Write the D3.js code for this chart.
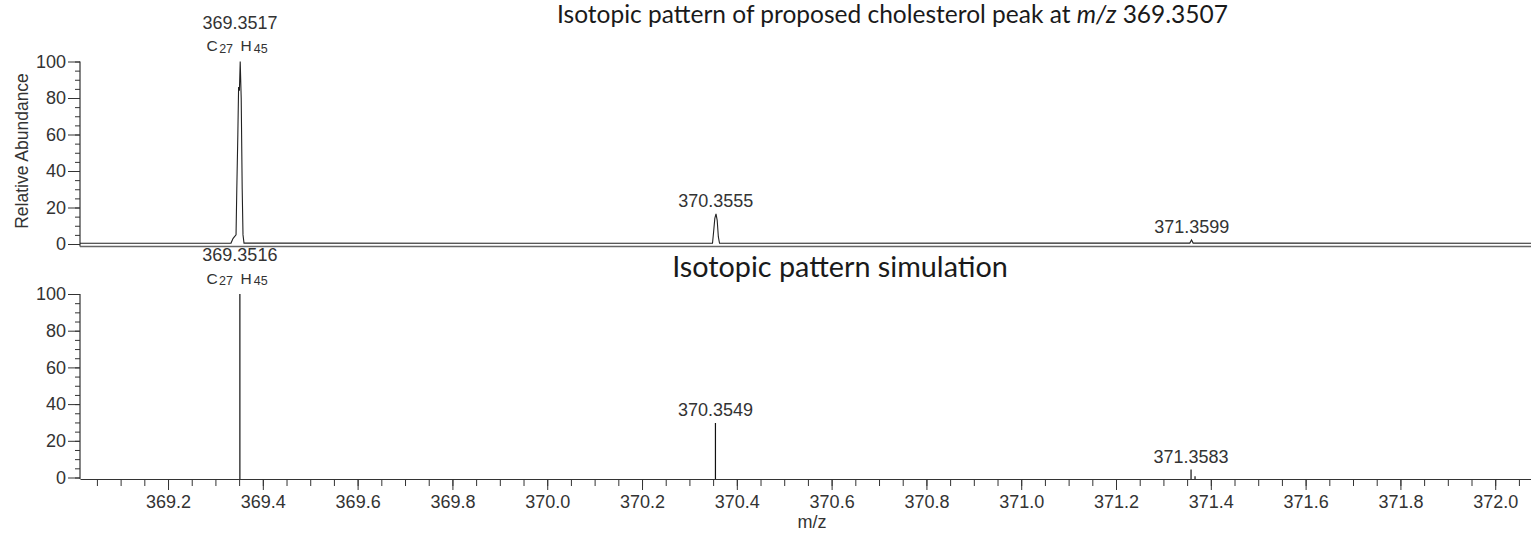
<!DOCTYPE html>
<html><head><meta charset="utf-8">
<script src="https://cdn.jsdelivr.net/npm/d3@7"></script>
<style>body{margin:0;background:#fff}svg{display:block}</style>
</head><body>
<svg id="chart" width="1531" height="534"></svg>
<script>
// ---- data ----
const xTickLabels = ["369.2","369.4","369.6","369.8","370.0","370.2","370.4","370.6","370.8","371.0","371.2","371.4","371.6","371.8","372.0"];
const yTickLabels = ["0","20","40","60","80","100"];
const xDomain = [369.0143, 372.0755];

// measured profile spectrum (top)
const profileMz = [369.0143, 369.3329, 369.3371, 369.3403, 369.3435, 369.3451, 369.3473, 369.3489, 369.3506, 369.3523, 369.3544, 369.3565, 369.3582, 369.3603,
                   370.3487, 370.3508, 370.3536, 370.3561, 370.3586, 370.3610, 370.3635,
                   371.3557, 371.3593, 371.3627, 372.0755];
const profileAbundance = [0.4, 0.5, 3, 4, 5, 30, 60, 86, 84, 100, 80, 30, 5, 0.5,
                          0.4, 6, 14, 16.5, 13, 4, 0.4,
                          0.5, 2.2, 0.5, 0.4];

// simulated stick spectrum (bottom)
const simMz = [369.3516, 370.3549, 371.3583, 371.3667];
const simAbundance = [100, 29.7, 4.3, 0.7];

// peak annotations
const topPeakLabels = ["369.3517", "370.3555", "371.3599"];
const topPeakMz = [369.3517, 370.3555, 371.3599];
const topPeakHeight = [100, 16.5, 2.2];
const simPeakLabels = ["369.3516", "370.3549", "371.3583"];
const simPeakMz = [369.3516, 370.3549, 371.3583];
const simPeakHeight = [100, 29.7, 4.3];
const formulaParts = ["C", "27", "H", "45"];

const titleTop = ["Isotopic pattern of proposed cholesterol peak at ", "m/z", " 369.3507"];
const titleBottom = "Isotopic pattern simulation";
const yAxisTitle = "Relative Abundance";
const xAxisTitle = "m/z";

// ---- layout ----
const svg = d3.select("#chart");
const FONT = "'Liberation Sans', Arial, sans-serif";
const TXT = "#333";
const x = d3.scaleLinear().domain(xDomain).range([80, 1531]);
const yTop = d3.scaleLinear().domain([0, 100]).range([244, 61.5]);
const yBot = d3.scaleLinear().domain([0, 100]).range([477.5, 294]);

function yAxis(y, axisLineY) {
  const g = svg.append("g").attr("transform", "translate(80,0)");
  g.append("g").call(d3.axisLeft(y).tickValues(d3.range(0, 101, 5)).tickSize(5).tickFormat(""))
    .call(s => s.select(".domain").remove())
    .call(s => s.selectAll("line").attr("stroke", "#333"));
  g.append("g").call(d3.axisLeft(y).tickValues(yTickLabels.map(Number)).tickSize(12).tickPadding(2)
      .tickFormat((d, i) => yTickLabels[i]))
    .call(s => s.select(".domain").remove())
    .call(s => s.selectAll("line").attr("stroke", "#333"))
    .call(s => s.selectAll("text").attr("font-family", FONT).attr("font-size", 18).attr("fill", TXT));
  g.append("line").attr("x1", 0).attr("x2", 0).attr("y1", y(100)).attr("y2", axisLineY)
    .attr("stroke", "#333").attr("stroke-width", 1.2);
}

// top panel
yAxis(yTop, 246.5);
svg.append("line").attr("x1", 80).attr("x2", 1531).attr("y1", 246.5).attr("y2", 246.5)
  .attr("stroke", "#666").attr("stroke-width", 1.3);
const profile = profileMz.map((m, i) => [m, profileAbundance[i]]);
svg.append("path").datum(profile)
  .attr("d", d3.line().x(d => x(d[0])).y(d => yTop(d[1])))
  .attr("fill", "none").attr("stroke", "#222").attr("stroke-width", 1.1);

// bottom panel
yAxis(yBot, 479);
const xg = svg.append("g").attr("transform", "translate(0,479)");
xg.append("g").call(d3.axisBottom(x).tickValues(d3.range(369.05, 372.08, 0.05)).tickSize(7).tickFormat("").tickSizeOuter(0))
  .call(s => s.select(".domain").attr("stroke", "#333").attr("stroke-width", 1.2))
  .call(s => s.selectAll("line").attr("stroke", "#333"));
xg.append("g").call(d3.axisBottom(x).tickValues(xTickLabels.map(Number)).tickSize(11).tickPadding(5)
    .tickFormat((d, i) => xTickLabels[i]).tickSizeOuter(0))
  .call(s => s.select(".domain").remove())
  .call(s => s.selectAll("line").attr("stroke", "#333"))
  .call(s => s.selectAll("text").attr("font-family", FONT).attr("font-size", 18).attr("fill", TXT));

svg.append("g").selectAll("line").data(simMz).join("line")
  .attr("x1", d => x(d)).attr("x2", d => x(d))
  .attr("y1", yBot(0) + 1.5).attr("y2", (d, i) => yBot(simAbundance[i]))
  .attr("stroke", "#111").attr("stroke-width", 1.2);

// peak labels
function peakLabels(labels, mzs, heights, y, formulaIdx) {
  labels.forEach((lab, i) => {
    const px = x(mzs[i]);
    const top = y(heights[i]);
    const isBase = i === formulaIdx;
    svg.append("text").attr("x", px).attr("y", isBase ? top - 33 : top - 7)
      .attr("text-anchor", "middle").attr("font-family", FONT).attr("font-size", 18)
      .attr("fill", TXT).text(lab);
    if (isBase) {
      const t = svg.append("text").attr("x", px - 33.5).attr("y", top - 10.5)
        .attr("font-family", FONT).attr("fill", TXT);
      t.append("tspan").attr("font-size", 15.5).text(formulaParts[0]);
      t.append("tspan").attr("font-size", 12.5).attr("dx", 1.5).attr("dy", 1.5).text(formulaParts[1]);
      t.append("tspan").attr("font-size", 15.5).attr("dx", 7.5).attr("dy", -1.5).text(formulaParts[2]);
      t.append("tspan").attr("font-size", 12.5).attr("dx", 2).attr("dy", 1.5).text(formulaParts[3]);
    }
  });
}
peakLabels(topPeakLabels, topPeakMz, topPeakHeight, yTop, 0);
peakLabels(simPeakLabels, simPeakMz, simPeakHeight, yBot, 0);

// axis titles
svg.append("text").attr("transform", "translate(28,151) rotate(-90)")
  .attr("text-anchor", "middle").attr("font-family", FONT).attr("font-size", 17.5)
  .attr("fill", TXT).text(yAxisTitle);
svg.append("text").attr("x", 812).attr("y", 528).attr("text-anchor", "middle")
  .attr("font-family", FONT).attr("font-size", 18).attr("fill", TXT).text(xAxisTitle);

// panel titles (fit to measured widths)
function fitTitle(sel, cx, targetW) {
  let fs = 22;
  sel.attr("font-size", fs);
  const w = sel.node().getComputedTextLength();
  fs = fs * targetW / w;
  sel.attr("font-size", fs).attr("x", cx);
}
const TFONT = "Lato, 'Open Sans', sans-serif";
const t1 = svg.append("text").attr("y", 23).attr("text-anchor", "middle")
  .attr("font-family", TFONT).attr("fill", "#1a1a1a");
t1.append("tspan").text(titleTop[0]);
t1.append("tspan").attr("font-style", "italic").text(titleTop[1]);
t1.append("tspan").text(titleTop[2]);
fitTitle(t1, 892.5, 671);
const t2 = svg.append("text").attr("y", 277).attr("text-anchor", "middle")
  .attr("font-family", TFONT).attr("fill", "#1a1a1a").text(titleBottom);
fitTitle(t2, 840, 336);
</script>
</body></html>
